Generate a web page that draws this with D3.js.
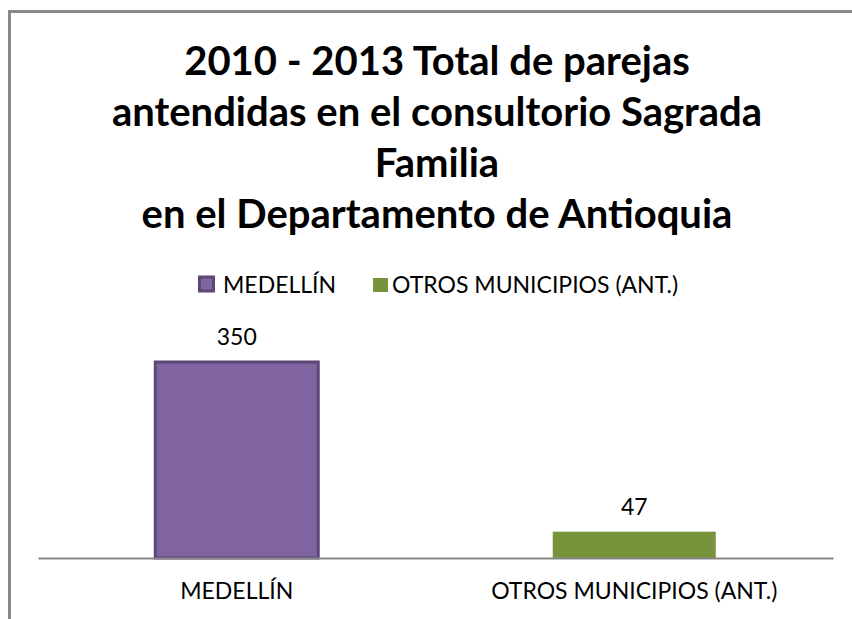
<!DOCTYPE html>
<html lang="es">
<head>
<meta charset="utf-8">
<title>Parejas atendidas - Sagrada Familia</title>
<script src="https://cdn.jsdelivr.net/npm/d3@7"></script>
<style>
  body { margin: 0; background: #fff; }
  text { font-family: Lato, "Open Sans", sans-serif; }
</style>
</head>
<body>
<script>
// data
const titleLines = [
  "2010 - 2013 Total de parejas",
  "antendidas en el consultorio Sagrada",
  "Familia",
  "en el Departamento de Antioquia"
];
const categories = ["MEDELLÍN", "OTROS MUNICIPIOS (ANT.)"];
const values = [350, 47];
const colors = ["#8064A2", "#77933C"];
const strokes = ["#5C4776", "none"];

const w = 852, h = 619;
const svg = d3.select("body").append("svg")
  .attr("width", w)
  .attr("height", h);

// chart frame (clipped at right and bottom like the original)
svg.append("path")
  .attr("d", `M9.5,${h} V11.5 H${w}`)
  .attr("fill", "none")
  .attr("stroke", "#888")
  .attr("stroke-width", 3);

// title
svg.append("g").selectAll("text")
  .data(titleLines)
  .enter().append("text")
  .attr("x", 437)
  .attr("y", (d, i) => 75 + i * 51)
  .attr("text-anchor", "middle")
  .attr("font-size", "40px")
  .attr("font-weight", "bold")
  .attr("fill", "#000")
  .text(d => d);

// scales
const x = d3.scaleBand()
  .domain(categories)
  .range([38, 833]);

const y = d3.scaleLinear()
  .domain([0, 400])
  .range([558, 334]);

const barW = x.bandwidth() * 0.41;

// bars
const bars = svg.selectAll(".bar")
  .data(categories)
  .enter().append("g")
  .attr("class", "bar");

bars.append("rect")
  .attr("x", d => x(d) + (x.bandwidth() - barW) / 2)
  .attr("y", (d, i) => y(values[i]))
  .attr("width", barW)
  .attr("height", (d, i) => y(0) - y(values[i]))
  .attr("fill", (d, i) => colors[i])
  .attr("stroke", (d, i) => strokes[i])
  .attr("stroke-width", 3);

// value labels
bars.append("text")
  .attr("x", d => x(d) + x.bandwidth() / 2)
  .attr("y", (d, i) => y(values[i]) - 17)
  .attr("text-anchor", "middle")
  .attr("font-size", "23px")
  .attr("fill", "#000")
  .text((d, i) => values[i]);

// x axis
const xAxis = svg.append("g")
  .attr("transform", `translate(0,${y(0)})`)
  .call(d3.axisBottom(x).tickSize(0).tickPadding(25));
xAxis.select(".domain").attr("stroke", "#888").attr("stroke-width", 2);
xAxis.selectAll(".tick text")
  .attr("font-size", "23px")
  .attr("font-family", "Lato, sans-serif")
  .attr("fill", "#000");

// legend
const legendX = [198, 373];
const legend = svg.append("g").selectAll("g")
  .data(categories)
  .enter().append("g")
  .attr("transform", (d, i) => `translate(${legendX[i]},277)`);

legend.append("rect")
  .attr("x", (d, i) => i === 0 ? 1.5 : 0)
  .attr("y", (d, i) => i === 0 ? 0 : 1)
  .attr("width", (d, i) => i === 0 ? 14 : 15)
  .attr("height", 14)
  .attr("fill", (d, i) => colors[i])
  .attr("stroke", (d, i) => strokes[i])
  .attr("stroke-width", 3);

legend.append("text")
  .attr("x", (d, i) => i === 0 ? 25 : 19)
  .attr("y", 16)
  .attr("font-size", "23px")
  .attr("fill", "#000")
  .text(d => d);
</script>
</body>
</html>
